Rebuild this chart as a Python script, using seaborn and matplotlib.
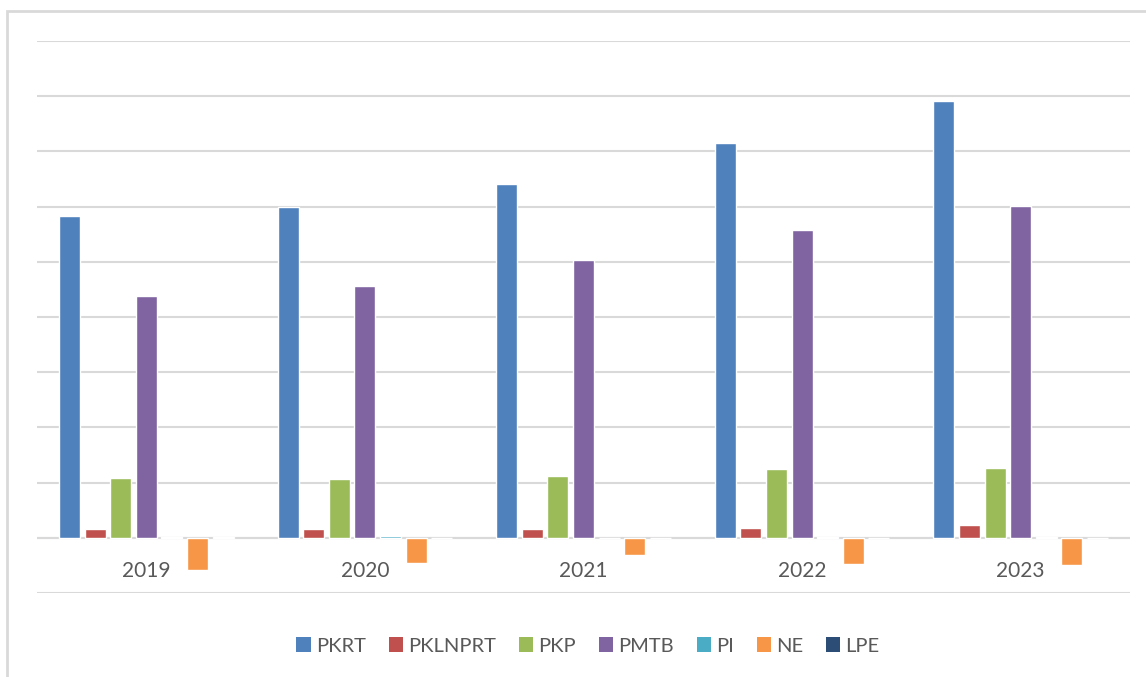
import matplotlib
matplotlib.use("Agg")
import matplotlib.pyplot as plt
import seaborn as sns
import pandas as pd
from matplotlib.patches import Rectangle, Patch

years = ["2019", "2020", "2021", "2022", "2023"]
series = ["PKRT", "PKLNPRT", "PKP", "PMTB", "PI", "NE", "LPE"]
PKRT = [29150, 30000, 32050, 35800, 39600]
PKLNPRT = [760, 760, 760, 920, 1120]
PKP = [5450, 5350, 5600, 6250, 6350]
PMTB = [21900, 22850, 25200, 27900, 30050]
PI = [50, 150, 20, 100, 30]
NE = [-2900, -2250, -1550, -2350, -2450]
LPE = [30, 25, 20, 25, 20]
colors = ["#4F81BD", "#C0504D", "#9BBB59", "#8064A2", "#4BACC6", "#F79646", "#2C4D75"]

values = {"PKRT": PKRT, "PKLNPRT": PKLNPRT, "PKP": PKP, "PMTB": PMTB,
          "PI": PI, "NE": NE, "LPE": LPE}
rows = []
for s in series:
    for y, v in zip(years, values[s]):
        rows.append({"year": y, "series": s, "value": v})
df = pd.DataFrame(rows)

sns.set_theme(style="white")
plt.rcParams["font.family"] = ["Lato", "DejaVu Sans"]

fig = plt.figure(figsize=(11.46, 6.77), dpi=100)
ax = fig.add_axes([37/1146, 84/677, (1130-37)/1146, (593-41)/677])

sns.barplot(data=df, x="year", y="value", hue="series", order=years,
            hue_order=series, palette=colors, width=0.82, gap=0.18,
            saturation=1, ax=ax, legend=False, errorbar=None)

ax.set_ylim(-5000, 45000)
ax.set_yticks(range(-5000, 45001, 5000))
ax.yaxis.grid(True, color="#d9d9d9", linewidth=1.5)
ax.set_axisbelow(True)
ax.set_yticklabels([])
ax.tick_params(axis="y", length=0)
ax.axhline(0, color="#d9d9d9", linewidth=1.5, zorder=0.5)
for sp in ax.spines.values():
    sp.set_visible(False)
ax.spines["bottom"].set_position(("data", 0))
ax.tick_params(axis="x", length=0, pad=17, labelsize=15, labelcolor="#595959")
ax.set_xlabel("")
ax.set_ylabel("")
ax.set_xlim(-0.5, 4.5)

handles = [Patch(facecolor=c, edgecolor="none", label=s) for s, c in zip(series, colors)]
fig.legend(handles=handles, loc="center", bbox_to_anchor=(588/1146, 31/677),
           ncol=7, frameon=False, fontsize=14.5, labelcolor="#595959",
           handlelength=0.7, handleheight=0.7, handletextpad=0.25,
           columnspacing=1.15)

fig.patches.append(Rectangle((7/1146, -0.05), 1.2, (677-11)/677 + 0.05,
                             transform=fig.transFigure, fill=False,
                             edgecolor="#d9d9d9", linewidth=2, clip_on=False))

fig.savefig("out.png", dpi=100)
